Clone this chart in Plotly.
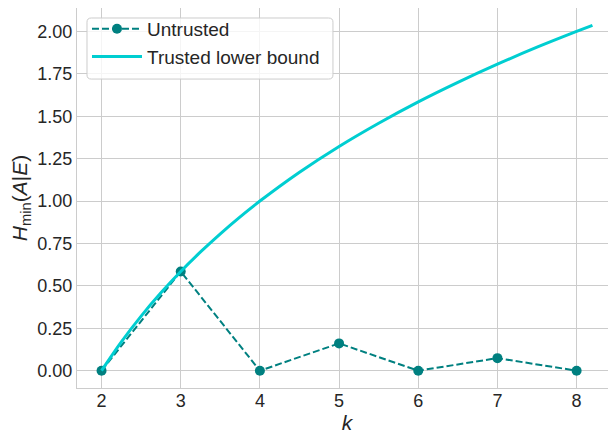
import plotly.graph_objects as go

k_untrusted = [2, 3, 4, 5, 6, 7, 8]
h_untrusted = [0.0, 0.585, 0.0, 0.161, 0.0, 0.074, 0.0]

k_trusted = [2, 2.25, 2.5, 2.75, 3, 3.25, 3.5, 3.75, 4, 4.5, 5, 5.5, 6, 6.5, 7, 7.5, 8, 8.2]
h_trusted = [0.0, 0.170, 0.322, 0.459, 0.585, 0.700, 0.807, 0.907, 1.000, 1.170,
             1.322, 1.459, 1.585, 1.700, 1.807, 1.907, 2.000, 2.036]

y_ticks = [0, 0.25, 0.5, 0.75, 1.0, 1.25, 1.5, 1.75, 2.0]
x_ticks = [2, 3, 4, 5, 6, 7, 8]

FONT = "Liberation Sans, Arial, sans-serif"

fig = go.Figure()
fig.add_trace(go.Scatter(
    x=k_untrusted, y=h_untrusted, mode="lines+markers", name="Untrusted",
    line=dict(color="#008080", width=2, dash="7px,3px"),
    marker=dict(color="#008080", size=10, symbol="circle"),
))
fig.add_trace(go.Scatter(
    x=k_trusted, y=h_trusted, mode="lines", name="Trusted lower bound",
    line=dict(color="#00CED1", width=3, shape="spline"),
))

axis_common = dict(
    showgrid=True, gridcolor="#cccccc", gridwidth=1,
    zeroline=False, showline=True, linecolor="#cccccc", linewidth=1, mirror=True,
    ticks="", tickfont=dict(family=FONT, size=18, color="#262626"),
)

fig.update_xaxes(range=[1.69, 8.51], tickvals=x_ticks, ticktext=[str(v) for v in x_ticks],
                 ticklabelstandoff=-4,
                 title=dict(text="<i>k</i>", font=dict(family=FONT, size=21, color="#262626"), standoff=0),
                 **axis_common)
fig.update_yaxes(range=[-0.102, 2.138], tickvals=y_ticks, ticktext=[f"{v:.2f}" for v in y_ticks],
                 title=dict(text="<i>H</i><sub>min</sub>(<i>A</i>|<i>E</i>)", font=dict(family=FONT, size=21, color="#262626"), standoff=6),
                 **axis_common)

# rounded legend frame (paper coords)
x0, x1, y0, y1 = 0.0185, 0.474, 0.813, 0.9737
rx, ry = 0.008, 0.011
frame_path = (f"M{x0+rx},{y1} L{x1-rx},{y1} Q{x1},{y1} {x1},{y1-ry} "
              f"L{x1},{y0+ry} Q{x1},{y0} {x1-rx},{y0} L{x0+rx},{y0} "
              f"Q{x0},{y0} {x0},{y0+ry} L{x0},{y1-ry} Q{x0},{y1} {x0+rx},{y1} Z")
fig.add_shape(type="path", path=frame_path, xref="paper", yref="paper",
              line=dict(color="#cccccc", width=1), fillcolor="rgba(255,255,255,0.8)",
              layer="above")

fig.update_layout(
    width=616, height=430,
    margin=dict(l=69, r=7, t=0, b=50),
    paper_bgcolor="white", plot_bgcolor="white",
    font=dict(family=FONT, color="#262626"),
    legend=dict(x=0.0185, y=0.995, xanchor="left", yanchor="top",
                bgcolor="rgba(0,0,0,0)", borderwidth=0,
                font=dict(size=19, color="#262626"), itemwidth=50),
    showlegend=True,
)

fig.write_html("out.html")
